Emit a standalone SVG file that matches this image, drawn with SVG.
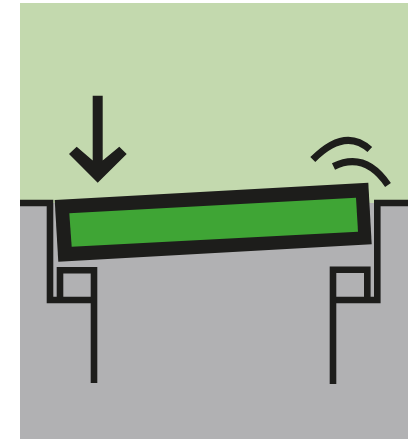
<svg xmlns="http://www.w3.org/2000/svg" width="408" height="439" viewBox="0 0 408 439">
<style>
.k{fill:#1d1d1b}
.l{fill:none;stroke:#1d1d1b;stroke-width:6.6;stroke-linejoin:miter;stroke-linecap:butt}
.a{fill:none;stroke:#1d1d1b;stroke-width:7}
</style>
<rect width="408" height="439" fill="#fff"/>
<rect x="20" y="3" width="388" height="200" fill="#c3d9ae"/>
<rect x="20" y="203" width="388" height="236" fill="#b1b1b3"/>
<g id="left-frame">
<path class="l" d="M20 203H50V300H94"/>
<path class="l" d="M60 297V270.200H94V383"/>
</g>
<g id="right-frame">
<path class="l" d="M408 203H377.300V300H333"/>
<path class="l" d="M367.300 297V269.800H333V384"/>
</g>
<g id="plate">
<polygon class="k" points="54.700,200 368.300,182.700 371.700,244.300 58.300,261.700"/>
<polygon fill="#3fa535" points="69.300,213.300 356,197.700 358,231.700 71.700,246.700"/>
</g>
<g id="press-arrow">
<polygon class="k" points="92.700,95.700 102.700,95.700 102.700,160.500 119.300,146.700 126.700,154 97.700,182.700 69,154 76.700,146.700 92.700,160.500"/>
</g>
<g id="signal">
<path class="a" d="M312.800 159.500Q345 127 369.800 149.500"/>
<path class="a" d="M333.500 166.500Q365 151 388 185"/>
</g>
</svg>
